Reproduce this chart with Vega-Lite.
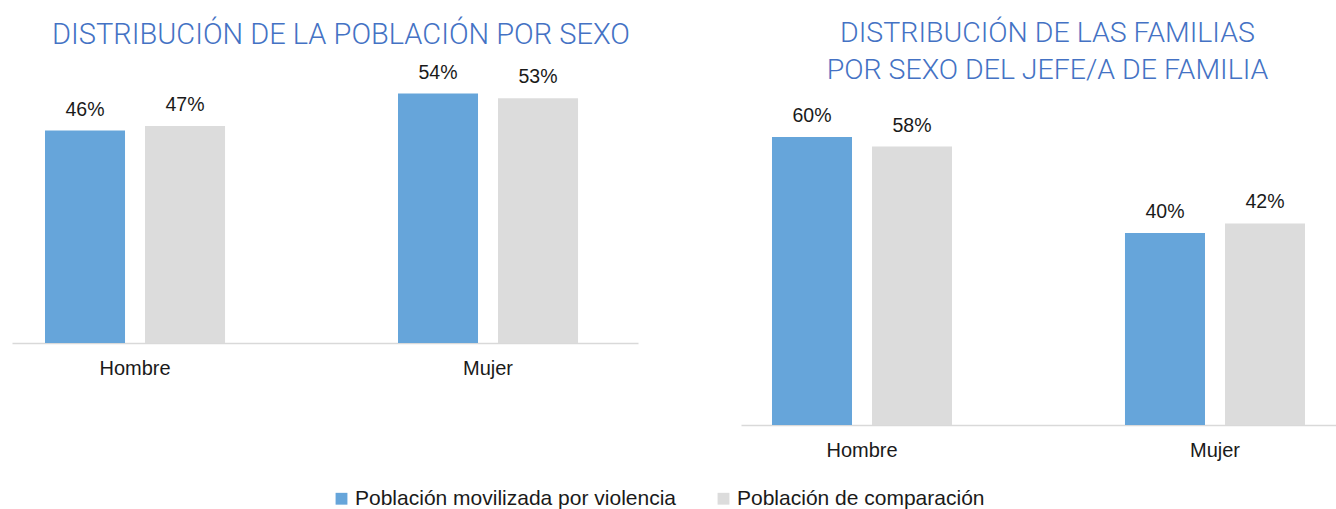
{
  "$schema": "https://vega.github.io/schema/vega-lite/v6.json",
  "padding": {"left": 12, "top": 18, "right": 0, "bottom": 0},
  "background": "white",
  "config": {"view": {"stroke": null}, "font": "Liberation Sans"},
  "datasets": {
    "d": [
      {"panel": "poblacion", "sexo": "Hombre", "serie": "Población movilizada por violencia", "valor": 0.46},
      {"panel": "poblacion", "sexo": "Hombre", "serie": "Población de comparación", "valor": 0.47},
      {"panel": "poblacion", "sexo": "Mujer", "serie": "Población movilizada por violencia", "valor": 0.54},
      {"panel": "poblacion", "sexo": "Mujer", "serie": "Población de comparación", "valor": 0.53},
      {"panel": "familias", "sexo": "Hombre", "serie": "Población movilizada por violencia", "valor": 0.60},
      {"panel": "familias", "sexo": "Hombre", "serie": "Población de comparación", "valor": 0.58},
      {"panel": "familias", "sexo": "Mujer", "serie": "Población movilizada por violencia", "valor": 0.40},
      {"panel": "familias", "sexo": "Mujer", "serie": "Población de comparación", "valor": 0.42}
    ]
  },
  "data": {"name": "d"},
  "spacing": 103,
  "hconcat": [
    {
      "title": {"text": "DISTRIBUCIÓN DE LA POBLACIÓN POR SEXO", "font": "Roboto", "fontWeight": 300, "fontSize": 29, "color": "#4472C4", "anchor": "middle", "frame": "group", "dx": 16, "offset": 13},
      "width": 626,
      "height": 254,
      "transform": [{"filter": "datum.panel == 'poblacion'"}],
      "encoding": {
        "x": {"field": "sexo", "type": "nominal", "sort": ["Hombre", "Mujer"], "scale": {"paddingInner": 0.49, "paddingOuter": 0.1317, "align": 0.355},
              "axis": {"title": null, "labelAngle": 0, "ticks": false, "domainColor": "#D9D9D9", "domainWidth": 1.5, "labelFontSize": 20, "labelColor": "#1a1a1a", "labelPadding": 15, "labelFont": "Liberation Sans"}},
        "xOffset": {"field": "serie", "type": "nominal", "sort": ["Población movilizada por violencia", "Población de comparación"], "scale": {"paddingInner": 0.2, "paddingOuter": 0}},
        "y": {"field": "valor", "type": "quantitative", "scale": {"domain": [0, 0.55]}, "axis": null},
        "color": {"field": "serie", "type": "nominal", "sort": ["Población movilizada por violencia", "Población de comparación"],
                  "scale": {"domain": ["Población movilizada por violencia", "Población de comparación"], "range": ["#66A5DA", "#DCDCDC"]},
                  "legend": {"title": null, "orient": "none", "direction": "horizontal", "legendX": 319, "legendY": 399, "symbolType": "square", "symbolSize": 140, "symbolStrokeWidth": 0, "labelFontSize": 21, "labelLimit": 500, "labelFont": "Liberation Sans", "labelColor": "#1a1a1a", "columnPadding": 36, "labelOffset": 3}}
      },
      "layer": [
        {"mark": {"type": "bar"}},
        {"mark": {"type": "text", "baseline": "bottom", "dy": -11, "fontSize": 19.5, "font": "Liberation Sans"}, "encoding": {"text": {"field": "valor", "type": "quantitative", "format": ".0%"}, "color": {"value": "#1a1a1a"}}}
      ]
    },
    {
      "title": {"text": ["DISTRIBUCIÓN DE LAS FAMILIAS", "POR SEXO DEL JEFE/A DE FAMILIA"], "font": "Roboto", "fontWeight": 300, "fontSize": 28.5, "lineHeight": 37, "color": "#4472C4", "anchor": "middle", "frame": "group", "dx": 9, "offset": 5},
      "width": 595,
      "height": 336,
      "transform": [{"filter": "datum.panel == 'familias'"}],
      "encoding": {
        "x": {"field": "sexo", "type": "nominal", "sort": ["Hombre", "Mujer"], "scale": {"paddingInner": 0.49, "paddingOuter": 0.0878, "align": 0.5},
              "axis": {"title": null, "labelAngle": 0, "ticks": false, "domainColor": "#D9D9D9", "domainWidth": 1.5, "labelFontSize": 20, "labelColor": "#1a1a1a", "labelPadding": 15, "labelFont": "Liberation Sans"}},
        "xOffset": {"field": "serie", "type": "nominal", "sort": ["Población movilizada por violencia", "Población de comparación"], "scale": {"paddingInner": 0.2, "paddingOuter": 0}},
        "y": {"field": "valor", "type": "quantitative", "scale": {"domain": [0, 0.7]}, "axis": null},
        "color": {"field": "serie", "type": "nominal", "sort": ["Población movilizada por violencia", "Población de comparación"]}
      },
      "layer": [
        {"mark": {"type": "bar"}},
        {"mark": {"type": "text", "baseline": "bottom", "dy": -11, "fontSize": 19.5, "font": "Liberation Sans"}, "encoding": {"text": {"field": "valor", "type": "quantitative", "format": ".0%"}, "color": {"value": "#1a1a1a"}}}
      ]
    }
  ]
}
